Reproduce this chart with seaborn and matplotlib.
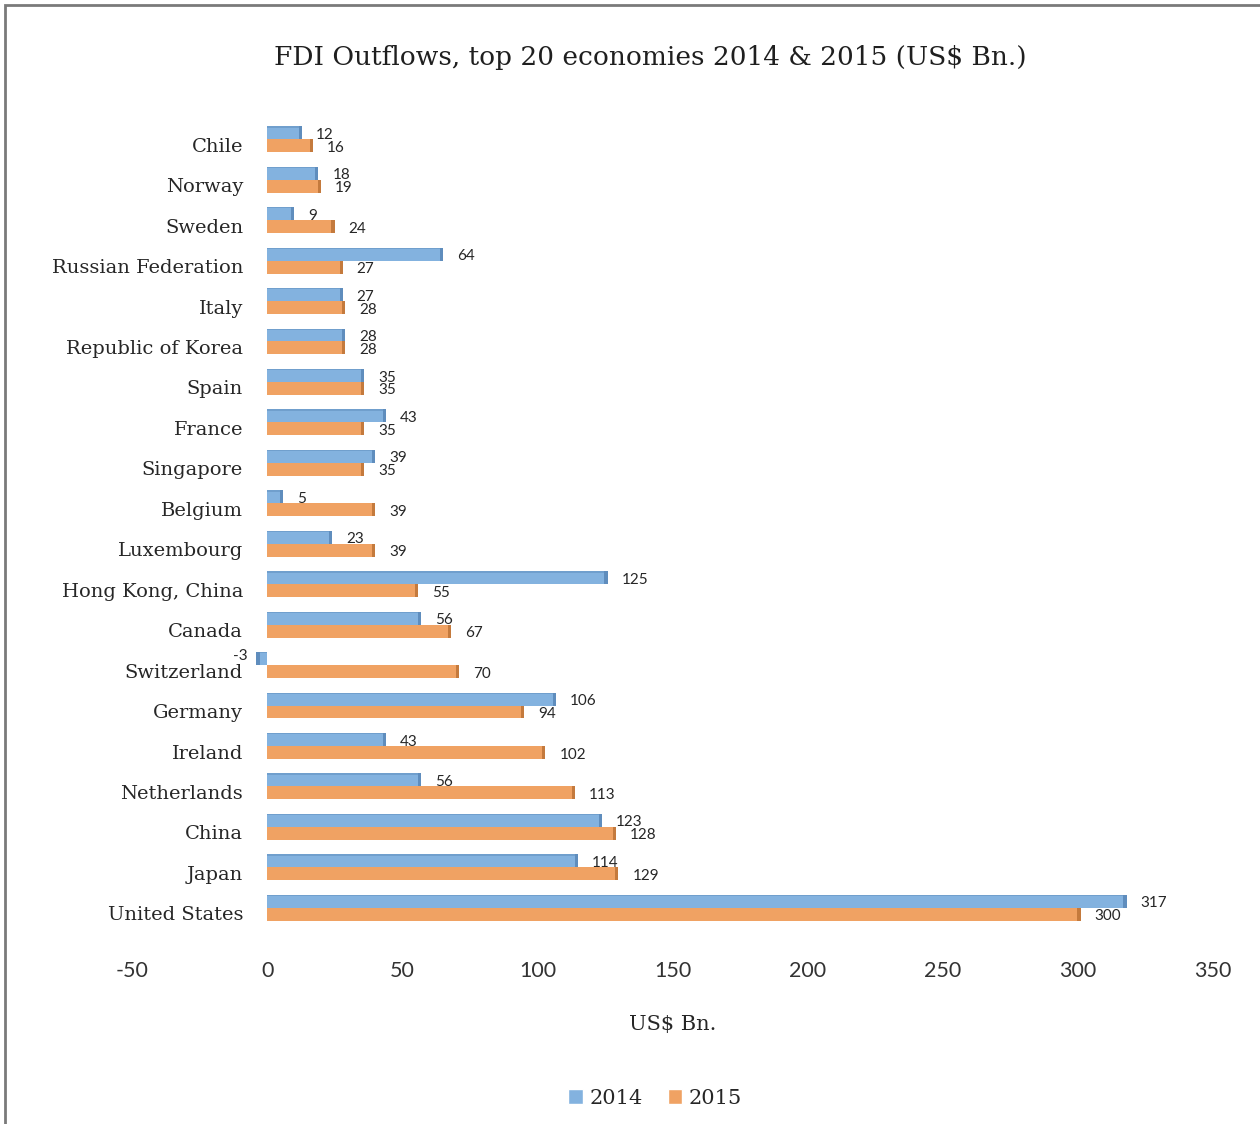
import matplotlib
matplotlib.use("Agg")
import matplotlib.pyplot as plt
import matplotlib.patches as mpatches
from matplotlib.transforms import ScaledTranslation
import seaborn as sns
import pandas as pd

# FDI outflows by economy (US$ Bn.)
countries = ["Chile", "Norway", "Sweden", "Russian Federation", "Italy",
             "Republic of Korea", "Spain", "France", "Singapore", "Belgium",
             "Luxembourg", "Hong Kong, China", "Canada", "Switzerland",
             "Germany", "Ireland", "Netherlands", "China", "Japan",
             "United States"]
fdi_2014 = [12, 18, 9, 64, 27, 28, 35, 43, 39, 5, 23, 125, 56, -3, 106, 43,
            56, 123, 114, 317]
fdi_2015 = [16, 19, 24, 27, 28, 28, 35, 35, 35, 39, 39, 55, 67, 70, 94, 102,
            113, 128, 129, 300]
years = ["2014", "2015"]
x_ticks = [-50, 0, 50, 100, 150, 200, 250, 300, 350]

BLUE = "#83B2DF"
ORANGE = "#F0A263"
BLUE_SIDE = "#5F8DBD"
ORANGE_SIDE = "#C47A3D"

SERIF = ["DejaVu Serif"]
SANS = ["Lato", "DejaVu Sans"]

df = pd.DataFrame({
    "country": countries * 2,
    "value": fdi_2014 + fdi_2015,
    "year": [years[0]] * len(countries) + [years[1]] * len(countries),
})

sns.set_style("white")
fig = plt.figure(figsize=(12.6, 11.24), dpi=100)
ax = fig.add_axes([132 / 1260, 1 - 928 / 1124, (1213 - 132) / 1260, (928 - 119) / 1124])

sns.barplot(data=df, y="country", x="value", hue="year", orient="h",
            palette=[BLUE, ORANGE], width=0.64, saturation=1, errorbar=None,
            legend=False, ax=ax, order=countries, hue_order=years,
            linewidth=0, edgecolor="none")

# darker end face and top edge on every bar for a bevelled look
side_cols = [BLUE_SIDE, ORANGE_SIDE]
series = [fdi_2014, fdi_2015]
for idx, (cont, vals, scol) in enumerate(zip(ax.containers, series, side_cols)):
    for bar, v in zip(cont, vals):
        yc = bar.get_y()
        h = bar.get_height()
        sgn = 1 if v >= 0 else -1
        ax.add_patch(mpatches.Rectangle((v - sgn * 0.2, yc), sgn * 1.2, h,
                                        facecolor=scol, edgecolor="none", zorder=3))
        if idx == 0:
            ax.add_patch(mpatches.Rectangle((0, yc), v, h * 0.1,
                                            facecolor=scol, alpha=0.5,
                                            edgecolor="none", zorder=3))
        if v >= 0:
            ax.annotate(str(v), (v, yc + h / 2), xytext=(12, -1.5),
                        textcoords="offset points", ha="left", va="center",
                        fontsize=11, family=SANS, color="#262626", zorder=4)
        else:
            ax.annotate(str(v), (v, yc + h / 2), xytext=(-8, 2),
                        textcoords="offset points", ha="right", va="center",
                        fontsize=11, family=SANS, color="#262626", zorder=4)

ax.set_xlim(-50, 350)
ax.set_ylim(len(countries) - 0.5, -0.5)
ax.set_xticks(x_ticks)
ax.set_xticklabels([str(t) for t in x_ticks], family=SANS, fontsize=15.5,
                   color="#333333")
ax.tick_params(axis="x", length=0, pad=24)
ax.tick_params(axis="y", length=0, pad=-80)
for lbl in ax.get_yticklabels():
    lbl.set_fontfamily(SERIF)
    lbl.set_fontsize(14)
    lbl.set_color("#262626")
    lbl.set_transform(lbl.get_transform() + ScaledTranslation(0, -4 / 72, fig.dpi_scale_trans))

ax.set_ylabel("")
ax.set_xlabel("US$ Bn.", family=SERIF, fontsize=15, color="#262626", labelpad=24)
for s in ax.spines.values():
    s.set_visible(False)
ax.grid(False)

fig.text(650 / 1260, 1 - 57 / 1124,
         "FDI Outflows, top 20 economies 2014 & 2015 (US$ Bn.)",
         ha="center", va="center", family=SERIF, fontsize=19, color="#1f1f1f")

handles = [mpatches.Patch(facecolor=BLUE, label=years[0]),
           mpatches.Patch(facecolor=ORANGE, label=years[1])]
fig.legend(handles=handles, loc="center", bbox_to_anchor=(655 / 1260, 1 - 1098 / 1124),
           ncol=2, frameon=False, handlelength=0.7, handleheight=0.7,
           handletextpad=0.3, columnspacing=1.2,
           prop={"family": SERIF, "size": 15})

# frame line along the top and left of the figure
fig.add_artist(mpatches.Rectangle((5 / 1260, -0.1), 1.2, 0.1 + 1 - 5 / 1124,
                                  transform=fig.transFigure, fill=False,
                                  edgecolor="#7a7a7a", lw=2, clip_on=False))

fig.savefig("out.png", dpi=100)
